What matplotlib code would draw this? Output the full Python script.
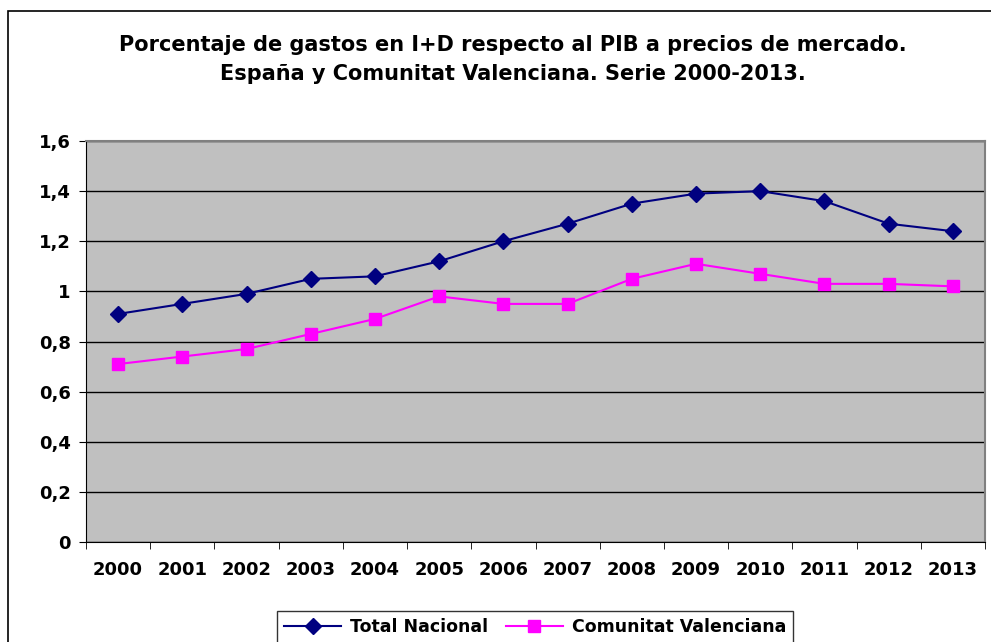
import matplotlib
matplotlib.use("Agg")
import matplotlib.pyplot as plt
from matplotlib.patches import Rectangle

years = ["2000", "2001", "2002", "2003", "2004", "2005", "2006",
         "2007", "2008", "2009", "2010", "2011", "2012", "2013"]
total_nacional = [0.91, 0.95, 0.99, 1.05, 1.06, 1.12, 1.20,
                  1.27, 1.35, 1.39, 1.40, 1.36, 1.27, 1.24]
comunitat_valenciana = [0.71, 0.74, 0.77, 0.83, 0.89, 0.98, 0.95,
                        0.95, 1.05, 1.11, 1.07, 1.03, 1.03, 1.02]
y_ticks = [0, 0.2, 0.4, 0.6, 0.8, 1.0, 1.2, 1.4, 1.6]
y_labels = ["0", "0,2", "0,4", "0,6", "0,8", "1", "1,2", "1,4", "1,6"]

plt.rcParams["font.family"] = "DejaVu Sans"
plt.rcParams["font.weight"] = "bold"

fig = plt.figure(figsize=(9.91, 6.42), dpi=100)
W, H = 991, 642
ax = fig.add_axes([86 / W, 1 - 542 / H, (985 - 86) / W, (542 - 141) / H])

# outer chart frame
fig.patches.append(Rectangle((8 / W, -0.01), 1.0, 1 - 11 / H + 0.01,
                             transform=fig.transFigure, fill=False,
                             edgecolor="black", linewidth=1.2))

ax.set_facecolor("#C0C0C0")
x = list(range(len(years)))
ax.plot(x, total_nacional, color="#000080", marker="D", markersize=8,
        linewidth=1.5, label="Total Nacional")
ax.plot(x, comunitat_valenciana, color="#FF00FF", marker="s", markersize=9,
        linewidth=1.5, label="Comunitat Valenciana")

ax.set_xlim(-0.5, len(years) - 0.5)
ax.set_ylim(0, 1.6)
ax.set_yticks(y_ticks)
ax.set_yticklabels(y_labels, fontsize=13, fontweight="bold")
ax.yaxis.grid(True, color="black", linewidth=1)
ax.set_axisbelow(True)

ax.set_xticks(x)
ax.set_xticklabels(years, fontsize=13, fontweight="bold")
ax.set_xticks([i - 0.5 for i in range(len(years) + 1)], minor=True)
ax.tick_params(axis="x", which="major", length=0, pad=14)
ax.tick_params(axis="x", which="minor", length=5, direction="out", color="black")
ax.tick_params(axis="y", length=5, direction="out", pad=6)

for side in ["top", "right"]:
    ax.spines[side].set_color("#808080")
    ax.spines[side].set_linewidth(1.5)
ax.spines["left"].set_color("black")
ax.spines["bottom"].set_color("black")

fig.text(513 / W, 1 - 45 / H,
         "Porcentaje de gastos en I+D respecto al PIB a precios de mercado.",
         ha="center", va="center", fontsize=15, fontweight="bold")
fig.text(513 / W, 1 - 74 / H,
         "España y Comunitat Valenciana. Serie 2000-2013.",
         ha="center", va="center", fontsize=15, fontweight="bold")

leg = fig.legend(loc="center", bbox_to_anchor=(535 / W, 1 - 627 / H), ncol=2,
                 frameon=True, fancybox=False, edgecolor="black",
                 prop={"size": 12.5, "weight": "bold"}, handlelength=3.3,
                 handletextpad=0.5, columnspacing=1.0, borderpad=0.4)
leg.get_frame().set_linewidth(1)

fig.savefig("out.png", dpi=100)
